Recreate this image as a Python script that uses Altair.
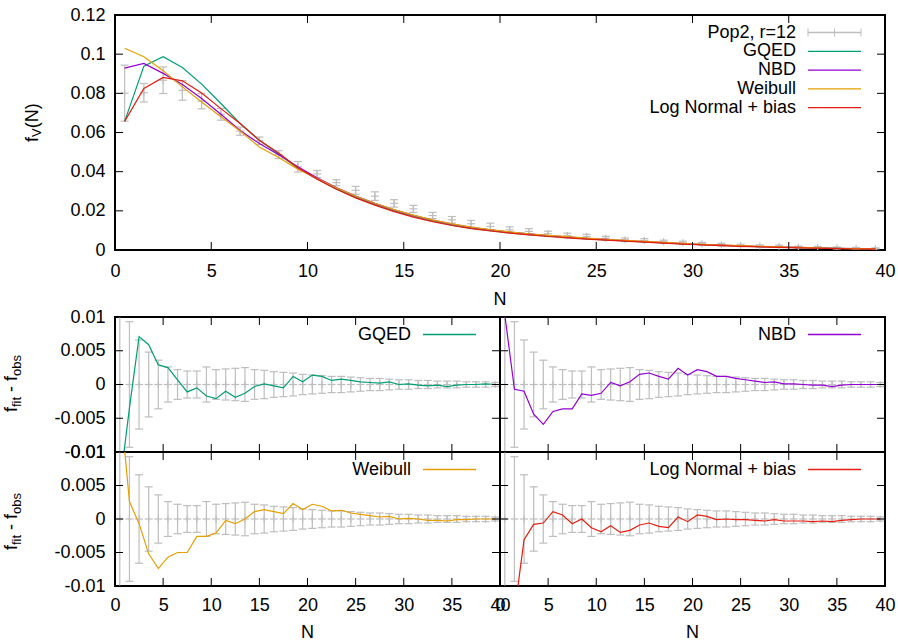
import altair as alt
import pandas as pd

FONT = "Liberation Sans"
GRAY = "#bebebe"

# ---------------- data ----------------
N = [i + 0.5 for i in range(40)]

obs_mid = [0.0801, 0.0803, 0.0867, 0.0815, 0.0760, 0.0693, 0.0607, 0.0558, 0.0487, 0.0425,
           0.0388, 0.0344, 0.0305, 0.0275, 0.0238, 0.0210, 0.0176, 0.0154, 0.0134, 0.0120,
           0.0103, 0.0095, 0.0083, 0.0074, 0.0069, 0.0060, 0.0052, 0.0049, 0.0042, 0.0037,
           0.0032, 0.0027, 0.0023, 0.0020, 0.0019, 0.0014, 0.0013, 0.0010, 0.0008, 0.0007]
obs_err = [0.0143, 0.0047, 0.0068, 0.0050, 0.0039, 0.0030, 0.0021, 0.0019, 0.0020, 0.0027,
           0.0018, 0.0015, 0.0020, 0.0022, 0.0019, 0.0018, 0.0016, 0.0017, 0.0017, 0.0017,
           0.0015, 0.0014, 0.0013, 0.0012, 0.0011, 0.0010, 0.0009, 0.0009, 0.0008, 0.0008,
           0.0007, 0.0007, 0.0006, 0.0006, 0.0006, 0.0005, 0.0005, 0.0005, 0.0005, 0.0004]

fit_gqed = [0.0657, 0.0939, 0.0987, 0.0932, 0.0847, 0.0748, 0.0646, 0.0560, 0.0490, 0.0418,
            0.0363, 0.0312, 0.0269, 0.0232, 0.0199, 0.0171, 0.0148, 0.0127, 0.0112, 0.0099,
            0.0088, 0.0079, 0.0071, 0.0064, 0.0057, 0.0051, 0.0046, 0.0041, 0.0036, 0.0031,
            0.0027, 0.0023, 0.0020, 0.0017, 0.0014, 0.0012, 0.0010, 0.0008, 0.0006, 0.0005]
fit_nbd = [0.0929, 0.0953, 0.0902, 0.0845, 0.0774, 0.0693, 0.0610, 0.0544, 0.0486, 0.0425,
           0.0369, 0.0319, 0.0276, 0.0238, 0.0205, 0.0177, 0.0153, 0.0132, 0.0116, 0.0103,
           0.0092, 0.0082, 0.0074, 0.0067, 0.0060, 0.0054, 0.0048, 0.0043, 0.0038, 0.0033,
           0.0028, 0.0025, 0.0021, 0.0018, 0.0015, 0.0013, 0.0011, 0.0009, 0.0007, 0.0006]
fit_weibull = [0.1030, 0.0987, 0.0915, 0.0833, 0.0756, 0.0680, 0.0608, 0.0526, 0.0472, 0.0413,
               0.0365, 0.0318, 0.0276, 0.0239, 0.0206, 0.0178, 0.0154, 0.0133, 0.0117, 0.0104,
               0.0093, 0.0083, 0.0075, 0.0068, 0.0061, 0.0055, 0.0049, 0.0044, 0.0039, 0.0034,
               0.0029, 0.0025, 0.0022, 0.0019, 0.0016, 0.0013, 0.0011, 0.0009, 0.0007, 0.0006]
fit_lognorm = [0.0657, 0.0825, 0.0881, 0.0864, 0.0802, 0.0722, 0.0646, 0.0560, 0.0495, 0.0420,
               0.0362, 0.0310, 0.0266, 0.0229, 0.0196, 0.0168, 0.0145, 0.0125, 0.0109, 0.0097,
               0.0086, 0.0077, 0.0069, 0.0062, 0.0056, 0.0050, 0.0045, 0.0040, 0.0035, 0.0030,
               0.0026, 0.0022, 0.0019, 0.0016, 0.0013, 0.0011, 0.0009, 0.0007, 0.0005, 0.0004]

res_err = [0.0143, 0.0093, 0.0066, 0.0048, 0.0036, 0.0026, 0.0022, 0.0020, 0.0020, 0.0026,
           0.0022, 0.0023, 0.0024, 0.0025, 0.0022, 0.0021, 0.0019, 0.0018, 0.0017, 0.0015,
           0.0014, 0.0013, 0.0012, 0.0012, 0.0011, 0.0010, 0.0009, 0.0009, 0.0008, 0.0007,
           0.0007, 0.0006, 0.0006, 0.0005, 0.0005, 0.0005, 0.0004, 0.0004, 0.0004, 0.0003]
res_gqed = [-0.0150, -0.0035, 0.0071, 0.0059, 0.0029, 0.0025, 0.0007, -0.0011, -0.0005, -0.0017,
            -0.0021, -0.0010, -0.0019, -0.0013, -0.0003, 0.0001, -0.0002, -0.0005, 0.0012, 0.0004,
            0.0014, 0.0012, 0.0006, 0.0008, 0.0006, 0.0004, 0.0003, 0.0002, 0.0004, 0.0000,
            0.0001, -0.0001, -0.0002, -0.0001, -0.0003, -0.0001, 0.0000, 0.0000, 0.0001, 0.0000]
res_nbd = [0.0103, -0.0007, -0.0010, -0.0044, -0.0059, -0.0040, -0.0036, -0.0036, -0.0014, -0.0016,
           -0.0013, 0.0003, -0.0002, 0.0004, 0.0015, 0.0017, 0.0012, 0.0008, 0.0024, 0.0014,
           0.0022, 0.0019, 0.0012, 0.0012, 0.0009, 0.0007, 0.0005, 0.0003, 0.0004, 0.0001,
           0.0001, 0.0000, -0.0001, -0.0001, -0.0003, -0.0001, 0.0000, 0.0000, 0.0000, 0.0000]
res_weibull = [0.0180, 0.0026, -0.0007, -0.0052, -0.0074, -0.0057, -0.0050, -0.0050, -0.0026, -0.0026,
               -0.0021, -0.0002, -0.0007, 0.0000, 0.0011, 0.0014, 0.0011, 0.0008, 0.0023, 0.0014,
               0.0022, 0.0019, 0.0012, 0.0013, 0.0009, 0.0007, 0.0005, 0.0003, 0.0004, 0.0000,
               0.0001, 0.0000, -0.0002, -0.0002, -0.0003, -0.0001, -0.0001, 0.0000, 0.0000, 0.0000]
res_lognorm = [-0.0160, -0.0140, -0.0031, -0.0008, -0.0006, 0.0011, 0.0006, -0.0007, 0.0000, -0.0013,
               -0.0019, -0.0010, -0.0020, -0.0017, -0.0009, -0.0006, -0.0011, -0.0013, 0.0003, -0.0004,
               0.0006, 0.0004, -0.0001, 0.0000, -0.0001, -0.0001, -0.0002, -0.0003, -0.0001, -0.0003,
               -0.0003, -0.0003, -0.0004, -0.0003, -0.0004, -0.0002, -0.0001, 0.0000, 0.0000, 0.0000]

x_ticks = [0, 5, 10, 15, 20, 25, 30, 35, 40]
y_ticks_top = [0, 0.02, 0.04, 0.06, 0.08, 0.1, 0.12]
y_ticks_res = [-0.01, -0.005, 0, 0.005, 0.01]

obs_label = "Pop2, r=12"
model_names = ["GQED", "NBD", "Weibull", "Log Normal + bias"]
model_colors = ["#009e73", "#9400d3", "#e69f00", "#e51e10"]
fits = [fit_gqed, fit_nbd, fit_weibull, fit_lognorm]
residuals = [res_gqed, res_nbd, res_weibull, res_lognorm]

XDOM = [0, 40]
YDOM_TOP = [0, 0.12]
YDOM_RES = [-0.01, 0.01]
LABEL_EXPR = "'' + datum.value"

# ---------------- helpers ----------------
ADV = {"f": 278, "i": 222, "t": 278, " ": 278, "-": 333, "o": 556, "b": 556, "s": 500,
       "V": 667, "(": 333, "N": 722, ")": 333}


def text_width(s, size):
    return sum(ADV.get(c, 556) for c in s) * size / 1000.0


one = pd.DataFrame({"a": [0]})


def txt(text, x, y, size=18, angle=None, align="right", baseline="middle"):
    kw = dict(text=text, font=FONT, fontSize=size, color="black", align=align, baseline=baseline)
    if angle is not None:
        kw["angle"] = angle
    return alt.Chart(one).mark_text(**kw).encode(x=alt.value(x), y=alt.value(y))


def hline(x1, x2, y, color, width=1.3):
    return alt.Chart(one).mark_rule(color=color, strokeWidth=width).encode(
        x=alt.value(x1), x2=alt.value(x2), y=alt.value(y))


def vline(x, y1, y2, color, width=1.0):
    return alt.Chart(one).mark_rule(color=color, strokeWidth=width).encode(
        x=alt.value(x), y=alt.value(y1), y2=alt.value(y2))


def legend_item(label, color, W, y, errbar=False):
    layers = [txt(label, W - 89, y), hline(W - 77, W - 24, y, color)]
    if errbar:
        for xx in (W - 77, W - 50.5, W - 24):
            layers.append(vline(xx, y - 4, y + 4, color))
    return layers


def rotated_title(segments, x_main, y_start):
    layers = []
    y = y_start
    for text, size, shift in segments:
        if text.strip():
            layers.append(txt(text, x_main + shift, y, size=size, angle=270,
                              align="left", baseline="alphabetic"))
        y -= text_width(text, size)
    return layers


def make_axis(values, padding, show):
    if not show:
        return None
    return alt.Axis(values=values, labelPadding=padding, labelExpr=LABEL_EXPR, title=None,
                    labelFlush=False, labelOverlap=False, ticks=False, domain=False, grid=False)


def frame_ticks(W, H, ys, xsc, ysc, xaxis, yaxis, L=8):
    xd = pd.DataFrame({"N": x_ticks})
    yd = pd.DataFrame({"v": ys})
    bx = alt.Chart(xd).mark_rule(color="black", strokeWidth=1)
    by = alt.Chart(yd).mark_rule(color="black", strokeWidth=1)
    X = alt.X("N:Q", scale=xsc, axis=xaxis)
    Y = alt.Y("v:Q", scale=ysc, axis=yaxis)
    return [
        bx.encode(x=X, y=alt.value(H), y2=alt.value(H - L)),
        bx.encode(x=X, y=alt.value(0), y2=alt.value(L)),
        by.encode(y=Y, x=alt.value(0), x2=alt.value(L)),
        by.encode(y=Y, x=alt.value(W), x2=alt.value(W - L)),
    ]


def errbar_layers(df, xsc, ysc, xaxis, yaxis):
    base = alt.Chart(df)
    X = alt.X("N:Q", scale=xsc, axis=xaxis)
    sty = dict(color=GRAY, strokeWidth=1.2, clip=True)
    layers = [
        base.mark_rule(**sty).encode(
            x=X, y=alt.Y("lo:Q", scale=ysc, axis=yaxis), y2="hi:Q"),
        # '+' marker, vertical stroke
        base.mark_rule(yOffset=-3.5, y2Offset=3.5, **sty).encode(
            x=X, y=alt.Y("mid:Q", scale=ysc, axis=yaxis), y2="mid:Q"),
    ]
    # caps and horizontal stroke of '+'
    for f in ("lo", "hi", "mid"):
        layers.append(base.mark_rule(xOffset=-4, x2Offset=4, **sty).encode(
            x=X, x2="N:Q", y=alt.Y(f + ":Q", scale=ysc, axis=yaxis)))
    return layers


# ---------------- top panel ----------------
W_TOP, H_TOP = 770, 235
xsc_t = alt.Scale(domain=XDOM, nice=False, zero=False)
ysc_t = alt.Scale(domain=YDOM_TOP, nice=False, zero=False)
xax_t = make_axis(x_ticks, 12, True)
yax_t = make_axis(y_ticks_top, 10, True)
obs_df = pd.DataFrame({"N": N, "mid": obs_mid,
                       "lo": [m - e for m, e in zip(obs_mid, obs_err)],
                       "hi": [m + e for m, e in zip(obs_mid, obs_err)]})

top_layers = errbar_layers(obs_df, xsc_t, ysc_t, xax_t, yax_t)
for name, color, vals in zip(model_names, model_colors, fits):
    d = pd.DataFrame({"N": N, "lo": vals})
    top_layers.append(alt.Chart(d).mark_line(color=color, strokeWidth=1.2, clip=True).encode(
        x=alt.X("N:Q", scale=xsc_t, axis=xax_t), y=alt.Y("lo:Q", scale=ysc_t, axis=yax_t)))
top_layers += frame_ticks(W_TOP, H_TOP, y_ticks_top, xsc_t, ysc_t, xax_t, yax_t)
top_layers += legend_item(obs_label, GRAY, W_TOP, 17.5, errbar=True)
for i, (name, color) in enumerate(zip(model_names, model_colors)):
    top_layers += legend_item(name, color, W_TOP, 17.5 + 18.8 * (i + 1))
top_layers += rotated_title([("f", 18, 0), ("V", 13, 3), ("(N)", 18, 0)], -77, 127)
top_layers.append(txt("N", W_TOP / 2, H_TOP + 55, align="center", baseline="alphabetic"))
top = alt.layer(*top_layers).properties(width=W_TOP, height=H_TOP)

# ---------------- residual panels ----------------
W_R = 385
res_df = pd.DataFrame({"N": N, "mid": [0.0] * 40,
                       "lo": [-e for e in res_err], "hi": list(res_err)})
res_title = [("f", 18, 0), ("fit", 13, 3.5), (" ", 18, 0), ("-", 18, 0), (" ", 18, 0),
             ("f", 18, 0), ("obs", 13, 3.5)]


def residual_panel(idx, H, xlabels, ylabels, title_y):
    xsc = alt.Scale(domain=XDOM, nice=False, zero=False)
    ysc = alt.Scale(domain=YDOM_RES, nice=False, zero=False)
    xaxis = make_axis(x_ticks, 10, xlabels)
    yaxis = make_axis(y_ticks_res, 10, ylabels)
    layers = errbar_layers(res_df, xsc, ysc, xaxis, yaxis)
    d = pd.DataFrame({"N": N, "lo": residuals[idx]})
    layers.append(alt.Chart(d).mark_line(color=model_colors[idx], strokeWidth=1.2, clip=True).encode(
        x=alt.X("N:Q", scale=xsc, axis=xaxis), y=alt.Y("lo:Q", scale=ysc, axis=yaxis)))
    layers += frame_ticks(W_R, H, y_ticks_res, xsc, ysc, xaxis, yaxis)
    layers += legend_item(model_names[idx], model_colors[idx], W_R, 17.5)
    if ylabels:
        layers += rotated_title(res_title, -98, title_y)
    if xlabels:
        layers.append(txt("N", W_R / 2, H + 52, align="center", baseline="alphabetic"))
    return alt.layer(*layers).properties(width=W_R, height=H)


p1 = residual_panel(0, 135, False, True, 95)
p2 = residual_panel(1, 135, False, False, 95)
p3 = residual_panel(2, 134, True, True, 98)
p4 = residual_panel(3, 134, True, False, 98)

grid = alt.concat(p1, p2, p3, p4, columns=2, spacing=0, bounds="flush")

chart = alt.vconcat(top, grid, spacing=67, bounds="flush").properties(
    padding={"left": 2, "top": 5, "right": 0, "bottom": 0},
    background="white",
).configure_view(
    stroke="black", strokeWidth=2
).configure_axis(
    labelFont=FONT, labelFontSize=18, labelColor="black", ticks=False, domain=False,
    grid=False, labelFlush=False, labelOverlap=False
)

chart.save("out.html", embed_options={"renderer": "svg", "actions": False})
